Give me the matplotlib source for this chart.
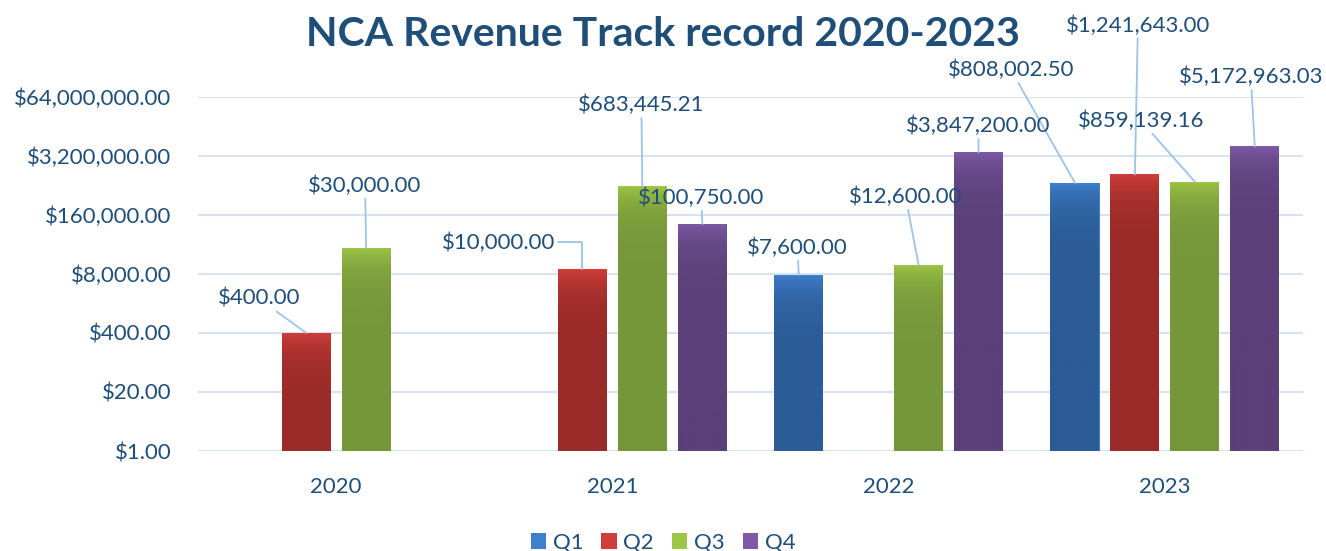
import numpy as np
import matplotlib
matplotlib.use('Agg')
import matplotlib.pyplot as plt
from matplotlib.colors import LinearSegmentedColormap
from matplotlib.ticker import FixedLocator, FuncFormatter

# data
years = ['2020', '2021', '2022', '2023']
quarters = ['Q1', 'Q2', 'Q3', 'Q4']
q1 = [None, None, 7600.00, 808002.50]
q2 = [400.00, 10000.00, None, 1241643.00]
q3 = [30000.00, 683445.21, 12600.00, 859139.16]
q4 = [None, 100750.00, 3847200.00, 5172963.03]
y_ticks = [1, 20, 400, 8000, 160000, 3200000, 64000000]

# label offsets (pixels, from bar top) per quarter/year
label_offsets = {
    ('Q1', 2): (-1, 27), ('Q1', 3): (-64, 113),
    ('Q2', 0): (-47, 34), ('Q2', 1): (-84, 27), ('Q2', 3): (3, 149),
    ('Q3', 0): (-1, 62), ('Q3', 1): (-1, 81), ('Q3', 2): (-13, 68), ('Q3', 3): (-54, 61),
    ('Q4', 1): (-1, 26), ('Q4', 2): (0, 26), ('Q4', 3): (-4, 69),
}
# leader lines with an elbow
elbow_labels = {('Q2', 1)}

# colours: (top, bottom)
colors = {
    'Q1': ('#3E80CE', '#2C5C97'),
    'Q2': ('#D03E3B', '#9A2B28'),
    'Q3': ('#9EC646', '#76963A'),
    'Q4': ('#7E5AA6', '#5B4079'),
}
text_color = '#1F4E79'
line_color = '#9DC3E6'
grid_color = '#D6E3F1'
font = 'Lato'
fs = 16

fig = plt.figure(figsize=(13.26, 5.51), dpi=100)
W, H = 1326, 551
ax = fig.add_axes([198 / W, (H - 451) / H, (1303 - 198) / W, (451 - 96.7) / H])

ax.set_yscale('log', base=20)
ax.set_ylim(1, 64000000)
ax.set_xlim(-0.5, 3.5)

series = [q1, q2, q3, q4]
bar_w = 0.178
step = 0.217
x = np.arange(len(years))

for i, (q, vals) in enumerate(zip(quarters, series)):
    top_c, bot_c = colors[q]
    cmap = LinearSegmentedColormap.from_list(q, [bot_c, top_c])
    pos = x + (i - 1.5) * step
    heights = [v if v is not None else np.nan for v in vals]
    bars = ax.bar(pos, heights, width=bar_w, bottom=1, color=top_c, label=q, zorder=3)
    for j, (b, v) in enumerate(zip(bars, vals)):
        if v is None:
            continue
        # vertical gradient clipped to the bar
        grad = np.linspace(0, 1, 256).reshape(-1, 1)
        img = ax.imshow(grad, cmap=cmap, origin='lower', aspect='auto',
                        extent=(pos[j] - bar_w / 2, pos[j] + bar_w / 2, 1, v),
                        zorder=4, interpolation='bicubic')
        img.set_clip_path(b)
        dx, dy = label_offsets[(q, j)]
        conn = 'angle,angleA=0,angleB=90,rad=0' if (q, j) in elbow_labels else 'arc3'
        ax.annotate(f'${v:,.2f}', xy=(pos[j], v), xytext=(dx, dy),
                    textcoords='offset pixels', ha='center', va='center',
                    fontsize=fs, color=text_color, family=font, zorder=6,
                    arrowprops=dict(arrowstyle='-', color=line_color, lw=1.3,
                                    shrinkA=0, shrinkB=0, connectionstyle=conn))

ax.set_xlim(-0.5, 3.5)
ax.set_ylim(1, 64000000)

# axes style
ax.yaxis.set_major_locator(FixedLocator(y_ticks))
ax.yaxis.set_minor_locator(FixedLocator([]))
ax.yaxis.set_major_formatter(FuncFormatter(lambda v, p: f'${v:,.2f}'))
ax.set_xticks(x)
ax.set_xticklabels(years)
ax.tick_params(axis='both', length=0, colors=text_color, labelsize=fs)
ax.tick_params(axis='y', pad=19)
ax.tick_params(axis='x', pad=19)
for lab in ax.get_xticklabels() + ax.get_yticklabels():
    lab.set_family(font)
ax.grid(axis='y', color=grid_color, lw=1.5, zorder=0)
for s in ax.spines.values():
    s.set_visible(False)
ax.set_axisbelow(True)

fig.suptitle('NCA Revenue Track record 2020-2023', x=0.5, y=1 - 35 / H, va='center',
             fontsize=29.5, fontweight='bold', color=text_color, family=font)

leg = fig.legend(loc='center', bbox_to_anchor=(0.5, 1 - 543 / H), ncol=4, frameon=False,
                 prop={'family': font, 'size': fs}, handlelength=0.7, handleheight=0.7,
                 handletextpad=0.3, columnspacing=0.8)
for t in leg.get_texts():
    t.set_color(text_color)

fig.savefig('out.png', dpi=100)
